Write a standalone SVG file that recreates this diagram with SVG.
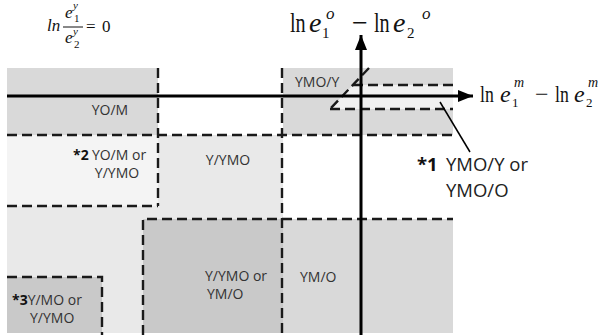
<svg xmlns="http://www.w3.org/2000/svg" width="598" height="335" viewBox="0 0 598 335">
  <defs>
    <marker id="arrow" markerUnits="userSpaceOnUse" markerWidth="15" markerHeight="12" refX="15" refY="6" orient="auto">
      <path d="M0,0 L15,6 L0,12 z" fill="#000"/>
    </marker>
    <style>
      .lbl { font-family: "Open Sans", "Noto Sans", sans-serif; font-size: 14px; fill: #333; }
      .big { font-family: "Open Sans", "Noto Sans", sans-serif; font-size: 18.5px; fill: #222; }
      .b { font-weight: bold; fill: #111; }
      .math { font-family: "Liberation Serif", "DejaVu Serif", serif; fill: #111; }
      .it { font-style: italic; }
      .dash { fill: none; stroke: #1a1a1a; stroke-width: 2.4; stroke-dasharray: 10 5; }
      .axis { fill: none; stroke: #000; stroke-width: 3; }
    </style>
  </defs>
  <rect width="598" height="335" fill="#fff"/>

  <!-- regions -->
  <g id="node-yo-m">
    <rect x="7" y="68" width="151" height="67" fill="#d9d9d9"/>
    <text class="lbl" x="110" y="115" text-anchor="middle">YO/M</text>
  </g>
  <g id="node-ymo-y">
    <rect x="283" y="68" width="170" height="67" fill="#d9d9d9"/>
    <polygon points="353,85 453,85 453,109 330,109" fill="#f1f1f1"/>
    <text class="lbl" x="295" y="87">YMO/Y</text>
  </g>
  <g id="node-lower-left">
    <path d="M7,135 H283 V219 H143 V333 H7 Z" fill="#e9e9e9"/>
  </g>
  <g id="node-2">
    <rect x="7" y="135" width="151" height="71" fill="#f4f4f4"/>
    <text class="lbl" x="73" y="160"><tspan class="b">*2</tspan></text>
    <text class="lbl" x="119" y="160" text-anchor="middle">YO/M or</text>
    <text class="lbl" x="117" y="178" text-anchor="middle">Y/YMO</text>
  </g>
  <g id="node-y-ymo">
    <text class="lbl" x="228" y="165" text-anchor="middle">Y/YMO</text>
  </g>
  <g id="node-y-ymo-or-ym-o">
    <rect x="143" y="219" width="140" height="114" fill="#c9c9c9"/>
    <text class="lbl" x="205" y="281">Y/YMO or</text>
    <text class="lbl" x="207" y="299">YM/O</text>
  </g>
  <g id="node-ym-o">
    <rect x="283" y="219" width="170" height="114" fill="#d9d9d9"/>
    <text class="lbl" x="300" y="282">YM/O</text>
  </g>
  <g id="node-3">
    <rect x="7" y="277" width="95" height="56" fill="#c9c9c9"/>
    <text class="lbl" x="12" y="305"><tspan class="b">*3</tspan>Y/MO or</text>
    <text class="lbl" x="30" y="323">Y/YMO</text>
  </g>
  <g id="node-1">
    <text class="big" x="417" y="171"><tspan class="b">*1</tspan></text>
    <text class="big" x="446" y="171">YMO/Y or</text>
    <text class="big" x="446" y="197">YMO/O</text>
  </g>

  <!-- dashed boundaries -->
  <g id="boundaries">
    <path class="dash" d="M7,135 H453"/>
    <path class="dash" d="M158,68 V206"/>
    <path class="dash" d="M282,68 V335"/>
    <path class="dash" d="M7,206 H158"/>
    <path class="dash" d="M143,335 V219 H453"/>
    <path class="dash" d="M7,277 H102 V335"/>
    <path class="dash" d="M369,68 L330,109"/>
    <path class="dash" d="M353,85 H453"/>
    <path class="dash" d="M330,109 H453"/>
  </g>

  <!-- connectors -->
  <g id="connectors">
    <line class="axis" x1="7" y1="96" x2="473" y2="96" marker-end="url(#arrow)"/>
    <line class="axis" x1="361" y1="335" x2="361" y2="35" marker-end="url(#arrow)"/>
    <line x1="440" y1="102" x2="470" y2="152" stroke="#000" stroke-width="1.5"/>
  </g>

  <!-- axis labels -->
  <g id="label-y-axis" class="math">
    <text transform="translate(290,32) scale(0.72,1)" font-size="28">ln</text>
    <text x="309" y="32" font-size="28" class="it">e</text>
    <text x="322" y="38" font-size="15">1</text>
    <text x="326" y="19" font-size="17" class="it">o</text>
    <text x="352" y="32" font-size="28">−</text>
    <text transform="translate(374,32) scale(0.72,1)" font-size="28">ln</text>
    <text x="393" y="32" font-size="28" class="it">e</text>
    <text x="407" y="38" font-size="15">2</text>
    <text x="422" y="19" font-size="17" class="it">o</text>
  </g>
  <g id="label-x-axis" class="math">
    <text transform="translate(480,102) scale(0.74,1)" font-size="24">ln</text>
    <text x="500" y="102" font-size="24" class="it">e</text>
    <text x="512" y="107" font-size="13">1</text>
    <text x="514" y="87" font-size="14" class="it">m</text>
    <text x="535" y="102" font-size="24">−</text>
    <text transform="translate(555,102) scale(0.74,1)" font-size="24">ln</text>
    <text x="574" y="102" font-size="24" class="it">e</text>
    <text x="586" y="107" font-size="13">2</text>
    <text x="588" y="87" font-size="14" class="it">m</text>
  </g>
  <g id="label-formula" class="math">
    <text x="47" y="31" font-size="17" class="it">ln</text>
    <text x="65" y="18" font-size="17" class="it">e</text>
    <text x="73" y="9" font-size="11" class="it">y</text>
    <text x="74" y="22" font-size="11">1</text>
    <line x1="63" y1="27" x2="83" y2="27" stroke="#111" stroke-width="1"/>
    <text x="65" y="43" font-size="17" class="it">e</text>
    <text x="73" y="35" font-size="11" class="it">y</text>
    <text x="74" y="48" font-size="11">2</text>
    <text x="86" y="32" font-size="17">=</text>
    <text x="102" y="32" font-size="17">0</text>
  </g>
</svg>
